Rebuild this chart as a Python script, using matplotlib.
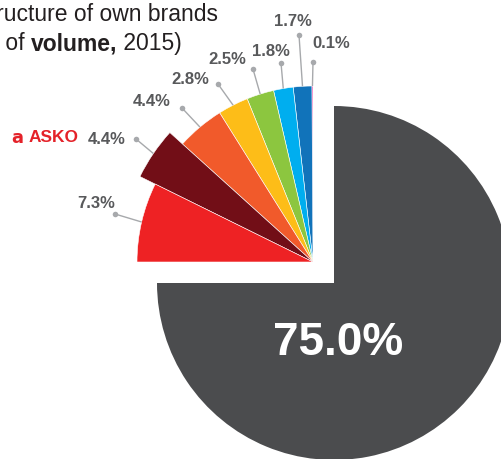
import matplotlib
matplotlib.use("Agg")
import matplotlib.pyplot as plt
import numpy as np

plt.rcParams['font.family'] = ['Liberation Sans', 'DejaVu Sans']

# ---- data (counter-clockwise from 12 o'clock) ----
shares = [0.1, 1.7, 1.8, 2.5, 2.8, 4.4, 4.4, 7.3, 75.0]
labels = ['0.1%', '1.7%', '1.8%', '2.5%', '2.8%', '4.4%', '4.4%', '7.3%', '75.0%']
colors = ['#ec008c', '#1173ba', '#00aeef', '#8cc63f', '#fdbd18',
          '#f15a2b', '#720e17', '#ee2224', '#4b4c4e']
highlight_brand = 'ASKO'
highlight_index = 6

W, H = 502, 459
fig = plt.figure(figsize=(W / 100, H / 100), dpi=100)
ax = fig.add_axes([0, 0, 1, 1])

def Y(y):
    return H - y

big_center = (334, Y(283))
small_center = (313, Y(262))
R = 177

wedges, _ = ax.pie(shares, colors=colors, startangle=90, counterclock=True,
                   center=big_center, radius=R, frame=True,
                   wedgeprops=dict(linewidth=0.4, edgecolor='white'))
wedges[-1].set_linewidth(0)
for i, w in enumerate(wedges[:-1]):
    w.set_center(small_center)
    w.set_radius(193 if i == highlight_index else 176)

ax.set_xlim(0, W)
ax.set_ylim(0, H)
ax.axis('off')

label_color = '#58595b'
line_color = '#a7a9ac'
# dot positions and label centers (layout, image pixel coords)
dots = [(313, 62), (299, 35), (281, 63), (253, 69), (218, 84), (182, 108), (136, 139), (115, 214)]
text_pos = [(331, 43), (293, 22), (271, 52), (227, 59), (190, 79), (152, 101), (107, 139), (96, 203)]

for i, w in enumerate(wedges[:-1]):
    th = np.deg2rad((w.theta1 + w.theta2) / 2)
    cx, cy = w.center
    sx, sy = cx + w.r * np.cos(th), cy + w.r * np.sin(th)
    dx, dy = dots[i]
    ax.plot([sx, dx], [sy, Y(dy)], color=line_color, lw=1.0, solid_capstyle='butt', zorder=1)
    ax.plot([dx], [Y(dy)], 'o', ms=4, color=line_color, mec='none', zorder=2)
    tx, ty = text_pos[i]
    ax.text(tx, Y(ty), labels[i], ha='center', va='center', fontsize=12,
            fontweight='bold', color=label_color)

# highlighted brand name
ax.text(54, Y(138), highlight_brand, ha='center', va='center', fontsize=12.5,
        fontweight='bold', color='#e42229')
ax.text(17, Y(138), 'a', ha='center', va='center', fontsize=13,
        fontweight='bold', color='#e42229', family='DejaVu Sans')

# big slice label
ax.text(338, Y(343), labels[-1], ha='center', va='center', fontsize=33,
        fontweight='bold', color='white')

# title (partly off canvas, as in the source)
title_color = '#231f20'
ax.text(218, Y(21), 'Market structure of own brands', ha='right', va='baseline',
        fontsize=16.5, color=title_color)
t3 = ax.text(182, Y(50), ' 2015)', ha='right', va='baseline',
             fontsize=16.5, color=title_color)
t2 = ax.annotate('volume,', xy=(0, 0), xycoords=t3, ha='right', va='bottom',
                 fontsize=16.5, fontweight='bold', color=title_color)
ax.annotate('(in terms of ', xy=(0, 0), xycoords=t2, ha='right', va='bottom',
            fontsize=16.5, color=title_color)

fig.savefig('out.png', dpi=100)
